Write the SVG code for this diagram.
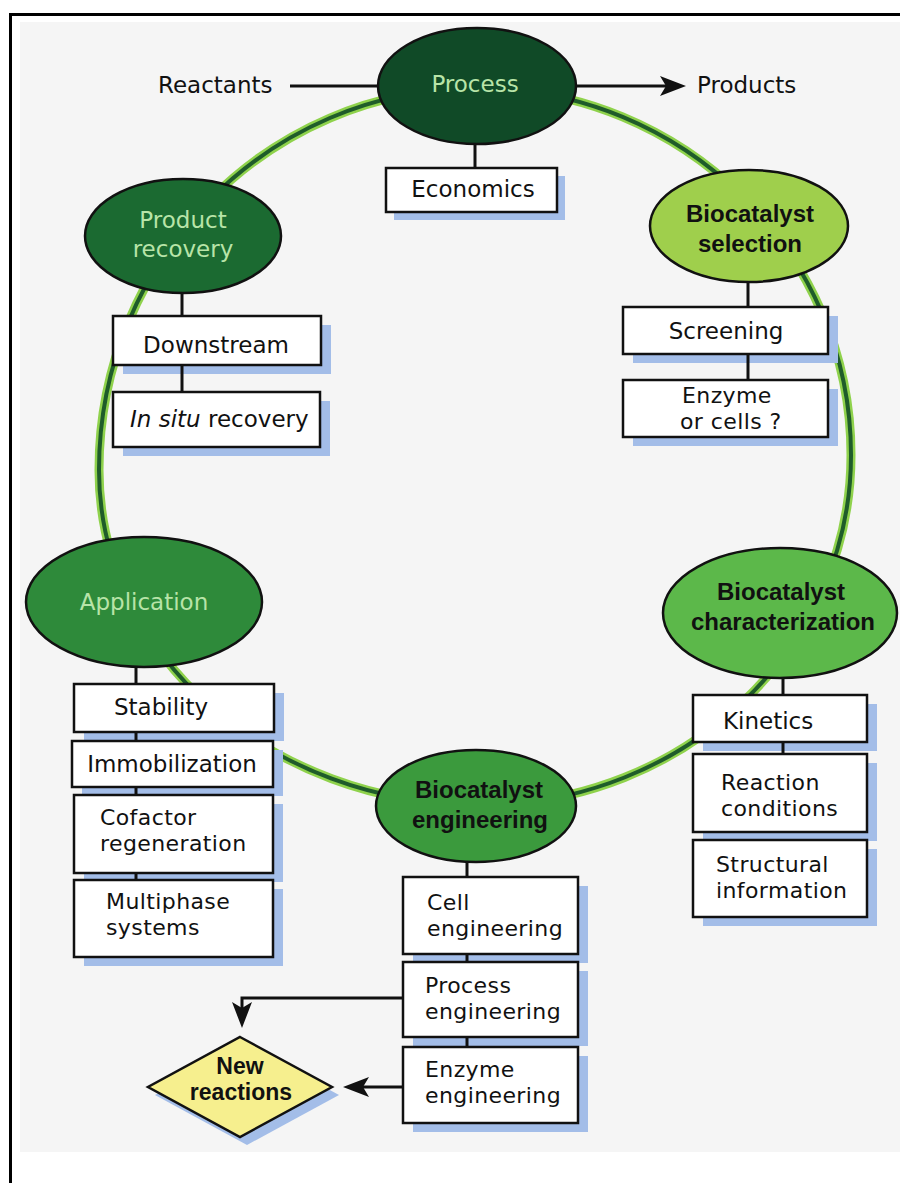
<svg xmlns="http://www.w3.org/2000/svg" width="900" height="1183" viewBox="0 0 900 1183">
  <defs>
    <style>
      .box{fill:#ffffff;stroke:#111;stroke-width:2.5}
      .shadow{fill:#a3bde8}
      .ell{stroke:#111;stroke-width:2.5}
      .lbl{font-family:"DejaVu Sans","Liberation Sans",sans-serif;font-size:23px;fill:#111}
      .lbl2{font-family:"DejaVu Sans","Liberation Sans",sans-serif;font-size:22px;letter-spacing:0.4px;fill:#111}
      .blbl{font-family:"Liberation Sans",Arial,sans-serif;font-size:24px;font-weight:bold;fill:#111}
      .nlbl{font-family:"Liberation Sans",Arial,sans-serif;font-size:23px;font-weight:bold;fill:#111}
      .light{font-family:"DejaVu Sans","Liberation Sans",sans-serif;font-size:23px;fill:#b8e4a8}
      .mid{text-anchor:middle}
      .link{stroke:#111;stroke-width:3;fill:none}
    </style>
    <marker id="arr" markerUnits="userSpaceOnUse" viewBox="0 0 26 20" markerWidth="26" markerHeight="20" refX="14" refY="10" orient="auto">
      <path d="M0,0 L26,10 L0,20 L6,10 z" fill="#111"/>
    </marker>
  </defs>

  <rect x="0" y="0" width="900" height="1183" fill="#ffffff"/>
  <rect x="20" y="22" width="880" height="1130" fill="#f5f5f5"/>
  <line x1="10" y1="14.5" x2="900" y2="14.5" stroke="#000" stroke-width="3"/>
  <line x1="10.5" y1="13" x2="10.5" y2="1183" stroke="#000" stroke-width="3"/>

  <g id="cycle-ring" fill="none">
    <path d="M477,88 C683.6,88 851,252.3 851,455 C851,648.3 684.9,805 480,805 C269.6,805 99,655 99,470 C99,259 268.2,88 477,88 Z" stroke="#8fd24c" stroke-width="9"/>
    <path d="M477,88 C683.6,88 851,252.3 851,455 C851,648.3 684.9,805 480,805 C269.6,805 99,655 99,470 C99,259 268.2,88 477,88 Z" stroke="#1f5c2a" stroke-width="4"/>
  </g>

  <g id="reactants"><text class="lbl" x="158" y="93">Reactants</text></g>
  <g id="products"><text class="lbl" x="697" y="93">Products</text></g>

  <g id="process">
    <ellipse class="ell" cx="477" cy="86" rx="99" ry="58" fill="#104a27"/>
    <text class="light mid" x="475" y="92">Process</text>
  </g>
  <g id="economics">
    <rect class="shadow" x="394" y="176" width="171" height="44"/>
    <rect class="box" x="386" y="168" width="171" height="44"/>
    <text class="lbl mid" x="473" y="197">Economics</text>
  </g>

  <g id="product-recovery">
    <ellipse class="ell" cx="183" cy="236" rx="98" ry="57" fill="#1b6a31"/>
    <text class="light mid" x="183" y="228">Product</text>
    <text class="light mid" x="183" y="257">recovery</text>
  </g>
  <g id="downstream">
    <rect class="shadow" x="123" y="325" width="208" height="49"/>
    <rect class="box" x="113" y="316" width="208" height="49"/>
    <text class="lbl mid" x="216" y="353">Downstream</text>
  </g>
  <g id="in-situ-recovery">
    <rect class="shadow" x="123" y="401" width="207" height="55"/>
    <rect class="box" x="113" y="392" width="207" height="55"/>
    <text class="lbl" x="130" y="427"><tspan font-style="italic">In situ</tspan> recovery</text>
  </g>

  <g id="biocatalyst-selection">
    <ellipse class="ell" cx="749" cy="226" rx="99" ry="56" fill="#9fcf4c"/>
    <text class="blbl mid" x="750" y="222">Biocatalyst</text>
    <text class="blbl mid" x="750" y="252">selection</text>
  </g>
  <g id="screening">
    <rect class="shadow" x="633" y="316" width="205" height="47"/>
    <rect class="box" x="623" y="307" width="205" height="47"/>
    <text class="lbl mid" x="726" y="339">Screening</text>
  </g>
  <g id="enzyme-or-cells">
    <rect class="shadow" x="633" y="389" width="205" height="57"/>
    <rect class="box" x="623" y="380" width="205" height="57"/>
    <text class="lbl2" x="682" y="403">Enzyme</text>
    <text class="lbl2" x="680" y="429">or cells ?</text>
  </g>

  <g id="application">
    <ellipse class="ell" cx="144" cy="602" rx="118" ry="65" fill="#2e8a3a"/>
    <text class="light mid" x="144" y="610">Application</text>
  </g>
  <g id="stability">
    <rect class="shadow" x="84" y="693" width="200" height="48"/>
    <rect class="box" x="74" y="684" width="200" height="48"/>
    <text class="lbl mid" x="161" y="715">Stability</text>
  </g>
  <g id="immobilization">
    <rect class="shadow" x="82" y="750" width="201" height="46"/>
    <rect class="box" x="72" y="741" width="201" height="46"/>
    <text class="lbl mid" x="172" y="772">Immobilization</text>
  </g>
  <g id="cofactor-regeneration">
    <rect class="shadow" x="84" y="804" width="199" height="78"/>
    <rect class="box" x="74" y="795" width="199" height="78"/>
    <text class="lbl2" x="100" y="825">Cofactor</text>
    <text class="lbl2" x="100" y="851">regeneration</text>
  </g>
  <g id="multiphase-systems">
    <rect class="shadow" x="84" y="889" width="199" height="77"/>
    <rect class="box" x="74" y="880" width="199" height="77"/>
    <text class="lbl2" x="106" y="909">Multiphase</text>
    <text class="lbl2" x="106" y="935">systems</text>
  </g>

  <g id="biocatalyst-characterization">
    <ellipse class="ell" cx="780" cy="613" rx="117" ry="65" fill="#5cb84a"/>
    <text class="blbl mid" x="781" y="600">Biocatalyst</text>
    <text class="blbl mid" x="783" y="630">characterization</text>
  </g>
  <g id="kinetics">
    <rect class="shadow" x="703" y="704" width="174" height="47"/>
    <rect class="box" x="693" y="695" width="174" height="47"/>
    <text class="lbl" x="723" y="729">Kinetics</text>
  </g>
  <g id="reaction-conditions">
    <rect class="shadow" x="703" y="763" width="174" height="78"/>
    <rect class="box" x="693" y="754" width="174" height="78"/>
    <text class="lbl2" x="721" y="790">Reaction</text>
    <text class="lbl2" x="721" y="816">conditions</text>
  </g>
  <g id="structural-information">
    <rect class="shadow" x="703" y="849" width="174" height="77"/>
    <rect class="box" x="693" y="840" width="174" height="77"/>
    <text class="lbl2" x="716" y="872">Structural</text>
    <text class="lbl2" x="716" y="898">information</text>
  </g>

  <g id="biocatalyst-engineering">
    <ellipse class="ell" cx="476" cy="806" rx="100" ry="56" fill="#3b9a3d"/>
    <text class="blbl mid" x="479" y="798">Biocatalyst</text>
    <text class="blbl mid" x="480" y="828">engineering</text>
  </g>
  <g id="cell-engineering">
    <rect class="shadow" x="413" y="886" width="175" height="77"/>
    <rect class="box" x="403" y="877" width="175" height="77"/>
    <text class="lbl2" x="427" y="910">Cell</text>
    <text class="lbl2" x="427" y="936">engineering</text>
  </g>
  <g id="process-engineering">
    <rect class="shadow" x="413" y="971" width="175" height="75"/>
    <rect class="box" x="403" y="962" width="175" height="75"/>
    <text class="lbl2" x="425" y="993">Process</text>
    <text class="lbl2" x="425" y="1019">engineering</text>
  </g>
  <g id="enzyme-engineering">
    <rect class="shadow" x="413" y="1056" width="175" height="76"/>
    <rect class="box" x="403" y="1047" width="175" height="76"/>
    <text class="lbl2" x="425" y="1077">Enzyme</text>
    <text class="lbl2" x="425" y="1103">engineering</text>
  </g>

  <g id="new-reactions">
    <polygon class="shadow" points="247,1045 339,1095 247,1145 155,1095"/>
    <polygon points="240,1037 332,1087 240,1137 148,1087" fill="#f6ef8e" stroke="#111" stroke-width="2.5"/>
    <text class="nlbl mid" x="240" y="1074">New</text>
    <text class="nlbl mid" x="241" y="1100">reactions</text>
  </g>

  <g id="connectors">
    <line class="link" x1="290" y1="86" x2="378" y2="86"/>
    <line class="link" x1="576" y1="86" x2="674" y2="86" marker-end="url(#arr)"/>
    <line class="link" x1="475" y1="144" x2="475" y2="168"/>
    <line class="link" x1="182" y1="293" x2="182" y2="316"/>
    <line class="link" x1="182" y1="365" x2="182" y2="392"/>
    <line class="link" x1="748" y1="282" x2="748" y2="307"/>
    <line class="link" x1="748" y1="354" x2="748" y2="380"/>
    <line class="link" x1="136" y1="667" x2="136" y2="684"/>
    <line class="link" x1="136" y1="732" x2="136" y2="741"/>
    <line class="link" x1="136" y1="787" x2="136" y2="795"/>
    <line class="link" x1="136" y1="873" x2="136" y2="880"/>
    <line class="link" x1="783" y1="678" x2="783" y2="695"/>
    <line class="link" x1="783" y1="742" x2="783" y2="754"/>
    <line class="link" x1="467" y1="862" x2="467" y2="877"/>
    <line class="link" x1="467" y1="954" x2="467" y2="962"/>
    <line class="link" x1="467" y1="1037" x2="467" y2="1047"/>
    <path class="link" d="M403,998 H242 V1016" marker-end="url(#arr)"/>
    <line class="link" x1="403" y1="1087" x2="355" y2="1087" marker-end="url(#arr)"/>
  </g>
</svg>
